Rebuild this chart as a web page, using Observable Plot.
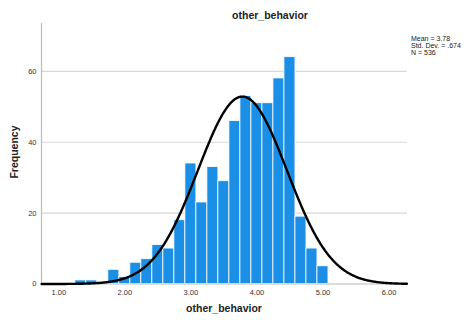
<!DOCTYPE html>
<html><head><meta charset="utf-8">
<script src="https://cdn.jsdelivr.net/npm/d3@7"></script>
<script src="https://cdn.jsdelivr.net/npm/@observablehq/plot@0.6"></script>
<style>
body{margin:0;background:#fff;font-family:"Liberation Sans",Arial,sans-serif;}
#wrap{position:relative;width:468px;height:320px;}
.t{position:absolute;color:#222;white-space:nowrap;}
</style></head><body>
<div id="wrap"></div>
<script>
const binStart = 1.25;
const binWidth = 1/6;
const counts = [1,1,0,4,2,6,7,11,10,18,34,23,33,29,46,53,51,51,58,64,19,10,5];
const mean = 3.78, sd = 0.674, n = 536;
const xTicks = [1,2,3,4,5,6];
const yTicks = [0,20,40,60];

const bins = counts.map((c,i)=>({x1: binStart + i*binWidth, x2: binStart + (i+1)*binWidth, y: c}));
const curve = d3.range(0.74, 6.28, 0.01).map(x => ({x, y: n*binWidth/(sd*Math.sqrt(2*Math.PI))*Math.exp(-0.5*((x-mean)/sd)**2)}));

const chart = Plot.plot({
  width: 468, height: 320,
  marginLeft: 41, marginRight: 61, marginTop: 23, marginBottom: 36.5,
  style: {fontFamily: '"Liberation Sans",Arial,sans-serif', fontSize: "7.5px", color: "#333", background: "#fff"},
  x: {domain: [0.738, 6.28], ticks: xTicks, tickFormat: d => d.toFixed(2), tickSize: 0, tickPadding: 6, label: null},
  y: {domain: [0, 73.5], ticks: yTicks, tickSize: 0, tickPadding: 5, label: null},
  marks: [
    Plot.ruleY(yTicks.filter(d=>d>0), {stroke: "#d9d9d9", strokeWidth: 1.2}),
    Plot.rectY(bins, {x1: "x1", x2: "x2", y: "y", fill: "#1b8fe6", stroke: "#ffffff", strokeWidth: 0.8}),
    Plot.ruleY([0], {stroke: "#bbbbbb", strokeWidth: 1}),
    Plot.ruleX([0.738], {stroke: "#bbbbbb", strokeWidth: 1.2}),
    Plot.line(curve, {x: "x", y: "y", stroke: "#000", strokeWidth: 2.4}),
    Plot.axisX({ticks: xTicks, tickFormat: d => d.toFixed(2), tickSize: 0, tickPadding: 6, label: null}),
    Plot.axisY({ticks: yTicks, tickSize: 0, tickPadding: 5, label: null})
  ]
});
const wrap = document.getElementById("wrap");
wrap.appendChild(chart);

function addText(txt, css){ const d=document.createElement("div"); d.className="t"; d.innerHTML=txt; Object.assign(d.style, css); wrap.appendChild(d); return d; }
addText("other_behavior", {left:"270px", top:"9px", transform:"translateX(-50%)", fontWeight:"bold", fontSize:"10.5px"});
addText("other_behavior", {left:"224px", top:"302px", transform:"translateX(-50%)", fontWeight:"bold", fontSize:"10.5px"});
addText("Frequency", {left:"14px", top:"152px", transform:"translate(-50%,-50%) rotate(-90deg)", fontWeight:"bold", fontSize:"10.5px"});
addText("Mean = 3.78<br>Std. Dev. = .674<br>N = 536", {left:"411px", top:"35px", fontSize:"7px", lineHeight:"7px"});
</script>
</body></html>
